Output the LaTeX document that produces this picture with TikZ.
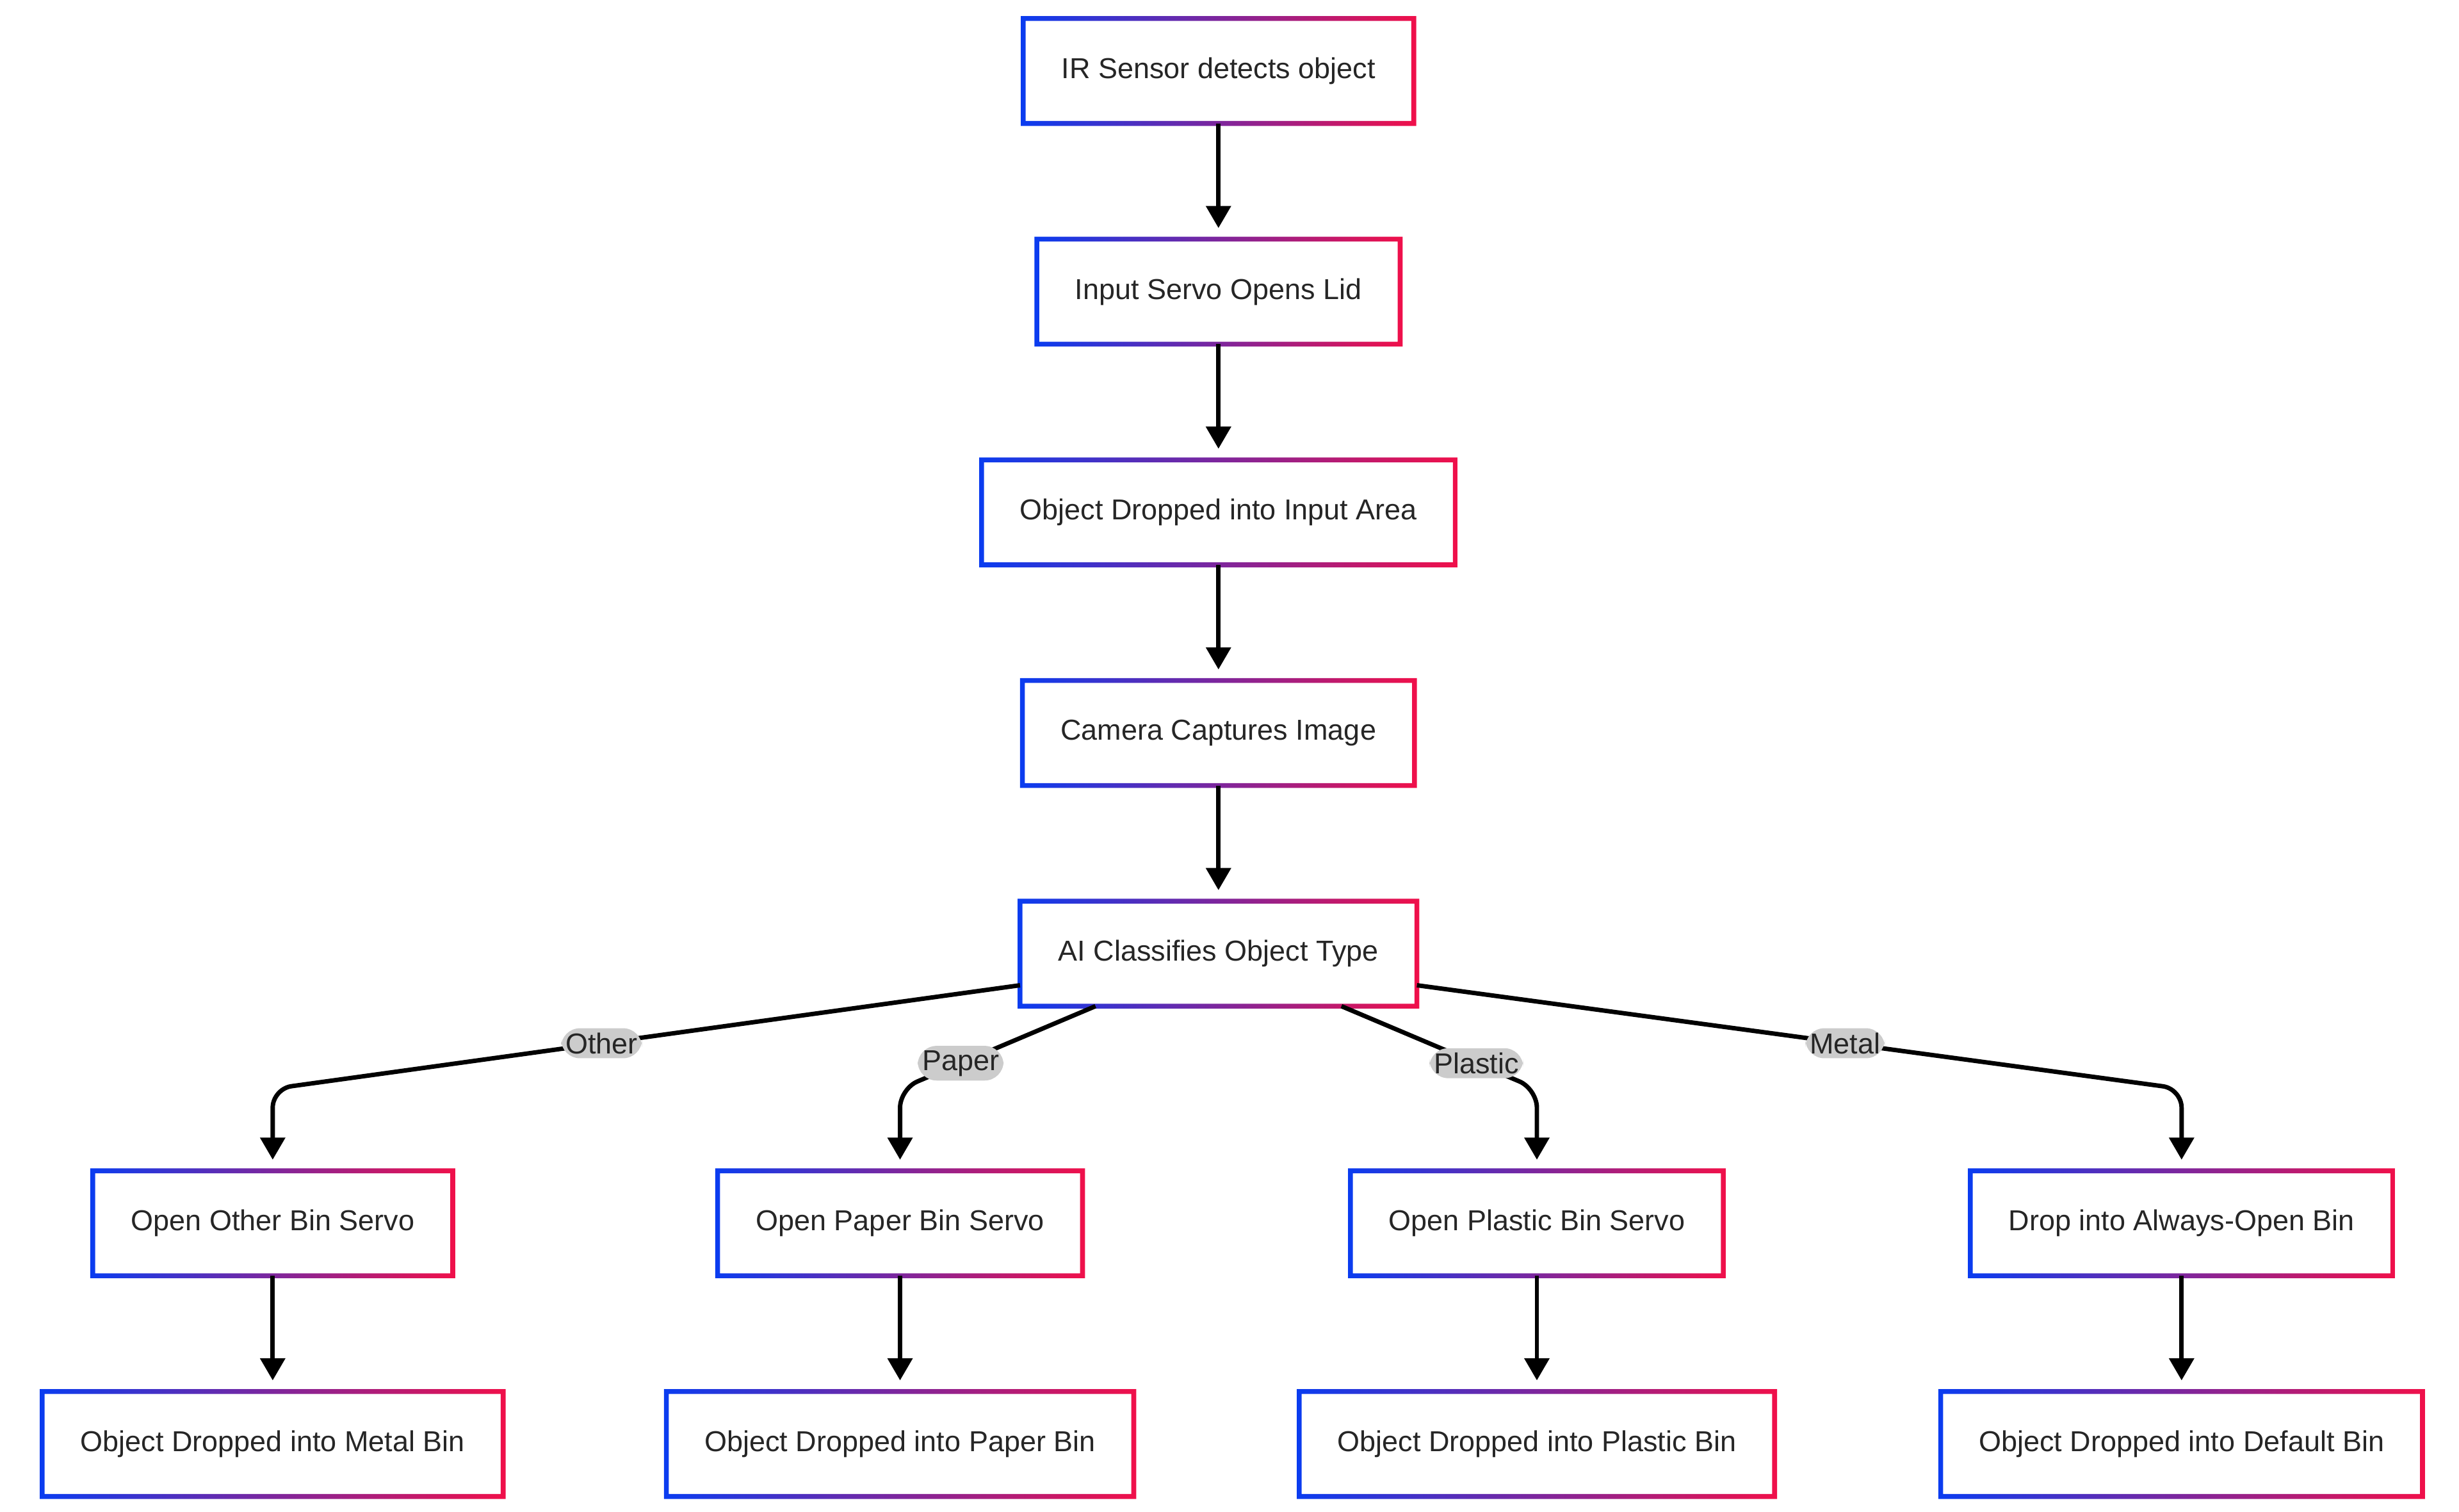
\documentclass[tikz,border=0pt]{standalone}
\usepackage{fontspec}
\setmainfont{Liberation Sans}
\usetikzlibrary{positioning, arrows.meta}

\definecolor{gblue}{HTML}{0A3CF0}
\definecolor{gred}{HTML}{F0104A}
\definecolor{lblgray}{HTML}{CCCCCC}

\tikzset{
    stage/.style={fill=white, minimum height=1.65cm, inner xsep=0.6cm,
        font=\fontsize{13}{15}\selectfont, text=black!85},
    flow/.style={line width=2pt, -{Triangle[length=10pt, width=11pt]},
        shorten >=5pt, rounded corners=0.3cm},
    tag/.style={fill=lblgray, inner sep=2pt, font=\fontsize{13}{15}\selectfont, text=black!85}
}

\begin{document}
\begin{tikzpicture}[x=0.025cm, y=-0.025cm]
    \useasboundingbox (0,0) rectangle (1560,959);

    % main chain
    \node[stage] (ir) at (773,45) {IR Sensor detects object};
    \node[stage] (lid) at (773,185) {Input Servo Opens Lid};
    \node[stage] (drop) at (773,325) {Object Dropped into Input Area};
    \node[stage] (cam) at (773,465) {Camera Captures Image};
    \node[stage] (ai) at (773,605) {AI Classifies Object Type};

    % servo row
    \node[stage] (other) at (173,776) {Open Other Bin Servo};
    \node[stage] (paper) at (571,776) {Open Paper Bin Servo};
    \node[stage] (plastic) at (975,776) {Open Plastic Bin Servo};
    \node[stage] (always) at (1384,776) {Drop into Always-Open Bin};

    % bin row
    \node[stage] (metalbin) at (173,916) {Object Dropped into Metal Bin};
    \node[stage] (paperbin) at (571,916) {Object Dropped into Paper Bin};
    \node[stage] (plasticbin) at (975,916) {Object Dropped into Plastic Bin};
    \node[stage] (defaultbin) at (1384,916) {Object Dropped into Default Bin};

    % gradient borders
    \foreach \n in {ir, lid, drop, cam, ai, other, paper, plastic, always,
                    metalbin, paperbin, plasticbin, defaultbin} {
        \shade[left color=gblue, right color=gred, even odd rule]
            ([shift={(-1.1pt,-1.1pt)}]\n.south west) rectangle ([shift={(1.1pt,1.1pt)}]\n.north east)
            ([shift={(1.1pt,1.1pt)}]\n.south west) rectangle ([shift={(-1.1pt,-1.1pt)}]\n.north east);
    }

    % connectors
    \draw[flow] (ir) -- (lid);
    \draw[flow] (lid) -- (drop);
    \draw[flow] (drop) -- (cam);
    \draw[flow] (cam) -- (ai);

    \draw[flow] ([yshift=-0.5cm]ai.west) -- node[tag, pos=0.56] {Other} ([yshift=1.3cm]other.north) -- (other);
    \draw[flow] ([xshift=-1.95cm]ai.south) -- node[tag, pos=0.69] {Paper} ([yshift=1.3cm]paper.north) -- (paper);
    \draw[flow] ([xshift=1.95cm]ai.south) -- node[tag, pos=0.69] {Plastic} ([yshift=1.3cm]plastic.north) -- (plastic);
    \draw[flow] ([yshift=-0.5cm]ai.east) -- node[tag, pos=0.56] {Metal} ([yshift=1.3cm]always.north) -- (always);

    \draw[flow] (other) -- (metalbin);
    \draw[flow] (paper) -- (paperbin);
    \draw[flow] (plastic) -- (plasticbin);
    \draw[flow] (always) -- (defaultbin);
\end{tikzpicture}
\end{document}
